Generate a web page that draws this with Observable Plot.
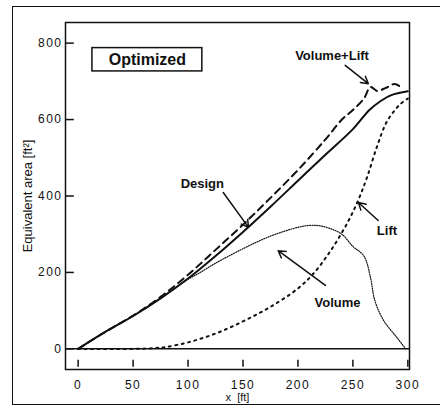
<!DOCTYPE html>
<html><head><meta charset="utf-8">
<script src="https://cdn.jsdelivr.net/npm/d3@7"></script>
<script src="https://cdn.jsdelivr.net/npm/@observablehq/plot@0.6"></script>
<style>
body{margin:0;background:#fff;}
#wrap{position:relative;width:440px;height:406px;overflow:hidden;background:#fff;}
#chart{position:absolute;left:0;top:0;}
#border{position:absolute;left:12px;top:6px;width:440px;height:399px;border:1.5px solid #111;border-right:none;box-sizing:border-box;pointer-events:none;}
g[aria-label$="tick label"] text{letter-spacing:1.5px;}
</style></head>
<body>
<div id="wrap"><div id="chart"></div><div id="border"></div></div>
<script>
// ---- data ----
const xTicks = [0, 50, 100, 150, 200, 250, 300];
const yTicks = [0, 200, 400, 600, 800];

const designX = [0, 25, 50, 75, 100, 125, 150, 175, 200, 225, 250, 265, 275, 285, 300];
const designY = [0, 45, 86, 132, 184, 243, 306, 372, 440, 508, 575, 625, 648, 664, 674];

const volLiftX = [0, 25, 50, 75, 100, 125, 150, 175, 200, 225, 240, 250, 260, 266, 272, 280, 288, 294];
const volLiftY = [0, 45, 87, 136, 194, 259, 325, 395, 468, 548, 600, 625, 655, 685, 675, 683, 693, 684];

const volumeX = [0, 25, 50, 75, 100, 110, 125, 150, 175, 200, 210, 220, 230, 240, 250, 260, 266, 270, 278, 290, 298];
const volumeY = [0, 45, 86, 132, 182, 198, 224, 262, 295, 318, 323, 322, 314, 300, 268, 243, 187, 126, 74, 30, 0];

const liftX = [0, 50, 70, 80, 100, 125, 150, 175, 200, 215, 230, 245, 255, 263, 272, 281, 293, 300];
const liftY = [0, 0, 2, 5, 17, 40, 72, 110, 158, 200, 258, 330, 390, 450, 530, 595, 640, 655];

const labelText = ["Volume+Lift", "Design", "Lift", "Volume"];
const labelX = [231, 113, 281, 236];
const labelY = [768, 432, 310, 121];

const arrowX1 = [243, 132, 273, 225];
const arrowY1 = [742, 409, 336, 166];
const arrowX2 = [264, 155, 255, 182];
const arrowY2 = [694, 318, 383, 257];

const boxTitle = "Optimized";
const boxX = [13, 113];
const boxY = [726, 787];

const xTitle = "x  [ft]";
const yTitle = "Equivalent area [ft²]";

// ---- build ----
const zip = (xs, ys) => xs.map((x, i) => ({x, y: ys[i]}));
const design = zip(designX, designY);
const volLift = zip(volLiftX, volLiftY);
const volume = zip(volumeX, volumeY);
const lift = zip(liftX, liftY);
const labels = labelText.map((t, i) => ({text: t, x: labelX[i], y: labelY[i]}));
const arrows = arrowX1.map((x1, i) => ({x1, y1: arrowY1[i], x2: arrowX2[i], y2: arrowY2[i]}));
const box = [{x1: boxX[0], x2: boxX[1], y1: boxY[0], y2: boxY[1], text: boxTitle}];

const xDom = [-11.5, 301.5];
const yDom = [-54, 854];
const ink = "#111";

const plot = Plot.plot({
  width: 440, height: 406,
  marginLeft: 65, marginRight: 31, marginTop: 22, marginBottom: 37,
  x: {domain: xDom},
  y: {domain: yDom},
  style: {fontFamily: "'Liberation Sans', Arial, sans-serif", fontSize: "11px", color: ink, background: "transparent"},
  marks: [
    Plot.ruleY([0], {stroke: ink, strokeWidth: 1.5}),
    Plot.ruleY(yTicks, {x1: xDom[0], x2: xDom[0] + 8, stroke: ink, strokeWidth: 1.5}),
    Plot.ruleX(xTicks, {y1: -48, y2: -30, stroke: ink, strokeWidth: 1.5}),
    Plot.axisX({ticks: xTicks, tickSize: 0, tickPadding: 11, label: null, fontSize: 12}),
    Plot.axisY({ticks: yTicks, tickSize: 0, tickPadding: 3, label: null, fontSize: 12}),
    Plot.frame({stroke: ink, strokeWidth: 1.5}),
    Plot.line(lift, {x: "x", y: "y", stroke: ink, strokeWidth: 2, strokeDasharray: "2,4.5", curve: "catmull-rom"}),
    Plot.line(volume, {x: "x", y: "y", stroke: ink, strokeWidth: 1.2, strokeDasharray: "1,1.4", curve: "catmull-rom"}),
    Plot.line(volLift, {x: "x", y: "y", stroke: ink, strokeWidth: 2, strokeDasharray: "7,5", curve: "catmull-rom"}),
    Plot.line(design, {x: "x", y: "y", stroke: ink, strokeWidth: 2, curve: "catmull-rom"}),
    Plot.arrow(arrows, {x1: "x1", y1: "y1", x2: "x2", y2: "y2", stroke: ink, strokeWidth: 1.5, headLength: 8}),
    Plot.rect(box, {x1: "x1", x2: "x2", y1: "y1", y2: "y2", fill: "white", stroke: ink, strokeWidth: 1.5}),
    Plot.text(box, {x: d => (d.x1 + d.x2) / 2, y: d => (d.y1 + d.y2) / 2, text: "text", fontSize: 16, fontWeight: "bold", fill: ink}),
    Plot.text(labels, {x: "x", y: "y", text: "text", fontSize: 13, fontWeight: "bold", fill: ink}),
    Plot.text([xTitle], {text: d => d, frameAnchor: "bottom", textAnchor: "middle", dy: 31, fontSize: 11, fill: ink}),
    Plot.text([yTitle], {text: d => d, frameAnchor: "left", textAnchor: "middle", dx: -38, rotate: -90, fontSize: 13, fill: ink})
  ]
});
document.getElementById("chart").appendChild(plot);
</script>
</body></html>
